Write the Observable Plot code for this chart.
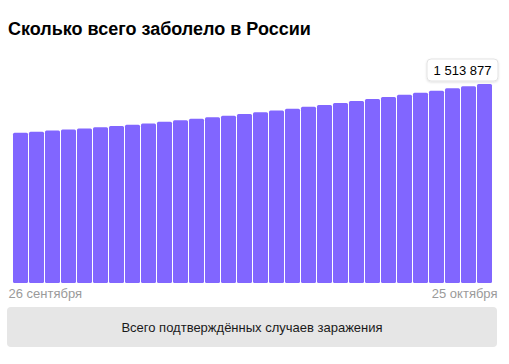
<!DOCTYPE html>
<html>
<head>
<meta charset="utf-8">
<script src="https://cdn.jsdelivr.net/npm/d3@7"></script>
<script src="https://cdn.jsdelivr.net/npm/@observablehq/plot@0.6"></script>
<style>
  html, body { margin: 0; padding: 0; background: #fff; }
  body { width: 509px; height: 364px; position: relative; overflow: hidden;
         font-family: "Liberation Sans", Arial, sans-serif; }
  #title { position: absolute; left: 8px; top: 19px; font-size: 18px; line-height: 20px;
           font-weight: bold; color: #000; white-space: nowrap; }
  #chart { position: absolute; left: 0; top: 45px; }
  #caption { position: absolute; left: 7px; top: 307px; width: 490px; height: 40px;
             background: #e6e6e6; border-radius: 4px; font-size: 13px; color: #1a1a1a;
             display: flex; align-items: center; justify-content: center; }
</style>
</head>
<body>
<div id="title"></div>
<div id="chart"></div>
<div id="caption"></div>
<script>
const titleText = "Сколько всего заболело в России";
const captionText = "Всего подтверждённых случаев заражения";
const xLabels = ["26 сентября", "25 октября"];
const dates = [
  "2020-09-26","2020-09-27","2020-09-28","2020-09-29","2020-09-30",
  "2020-10-01","2020-10-02","2020-10-03","2020-10-04","2020-10-05",
  "2020-10-06","2020-10-07","2020-10-08","2020-10-09","2020-10-10",
  "2020-10-11","2020-10-12","2020-10-13","2020-10-14","2020-10-15",
  "2020-10-16","2020-10-17","2020-10-18","2020-10-19","2020-10-20",
  "2020-10-21","2020-10-22","2020-10-23","2020-10-24","2020-10-25"
];
const cases = [
  1143571,1151438,1159573,1167805,1176286,1185231,1194643,1204502,1214175,1225889,
  1237504,1248619,1260112,1272238,1285084,1298718,1312310,1326178,1340409,1354163,
  1369313,1384235,1399334,1415316,1431635,1447335,1463306,1480646,1497167,1513877
];

document.getElementById("title").textContent = titleText;
document.getElementById("caption").textContent = captionText;

const data = dates.map((d, i) => ({date: d, value: cases[i]}));
const lastValue = cases[cases.length - 1];
const fmt = d3.formatLocale({decimal: ",", thousands: "\u00a0", grouping: [3], currency: ["", ""]}).format(",d");

const valueBox = (index, scales, values, dimensions) => {
  const right = dimensions.width - dimensions.marginRight + 1;
  const yTop = scales.y(lastValue);
  const w = 71, h = 22;
  const g = d3.create("svg:g");
  const defs = g.append("defs");
  const f = defs.append("filter").attr("id", "sh").attr("x", "-20%").attr("y", "-40%").attr("width", "140%").attr("height", "180%");
  f.append("feDropShadow").attr("dx", 0).attr("dy", 1).attr("stdDeviation", 1.2).attr("flood-color", "#000").attr("flood-opacity", 0.12);
  g.append("rect")
    .attr("x", right - w).attr("y", yTop - 3 - h)
    .attr("width", w).attr("height", h).attr("rx", 4)
    .attr("fill", "#fff").attr("stroke", "#e3e3e3").attr("filter", "url(#sh)");
  g.append("text")
    .attr("x", right - w / 2).attr("y", yTop - 3 - h / 2)
    .attr("text-anchor", "middle").attr("dominant-baseline", "central")
    .attr("font-size", 13).attr("fill", "#000")
    .text(fmt(lastValue));
  return g.node();
};

const chart = Plot.plot({
  width: 509,
  height: 260,
  marginTop: 39,
  marginBottom: 22,
  marginLeft: 8,
  marginRight: 12,
  style: {fontFamily: "'Liberation Sans', Arial, sans-serif", background: "transparent", overflow: "visible"},
  x: {type: "band", domain: dates, paddingInner: 0.08, paddingOuter: 0, axis: null},
  y: {domain: [0, lastValue], nice: false, axis: null},
  marks: [
    Plot.barY(data, {x: "date", y: "value", fill: "#8166ff", rx: 1.5}),
    Plot.text([xLabels[0]], {frameAnchor: "bottom-left", textAnchor: "start", lineAnchor: "top", dy: 5, fontSize: 13, fill: "#9a9a9a"}),
    Plot.text([xLabels[1]], {frameAnchor: "bottom-right", textAnchor: "end", lineAnchor: "top", dy: 5, fontSize: 13, fill: "#9a9a9a"}),
    valueBox
  ]
});
document.getElementById("chart").appendChild(chart);
</script>
</body>
</html>
